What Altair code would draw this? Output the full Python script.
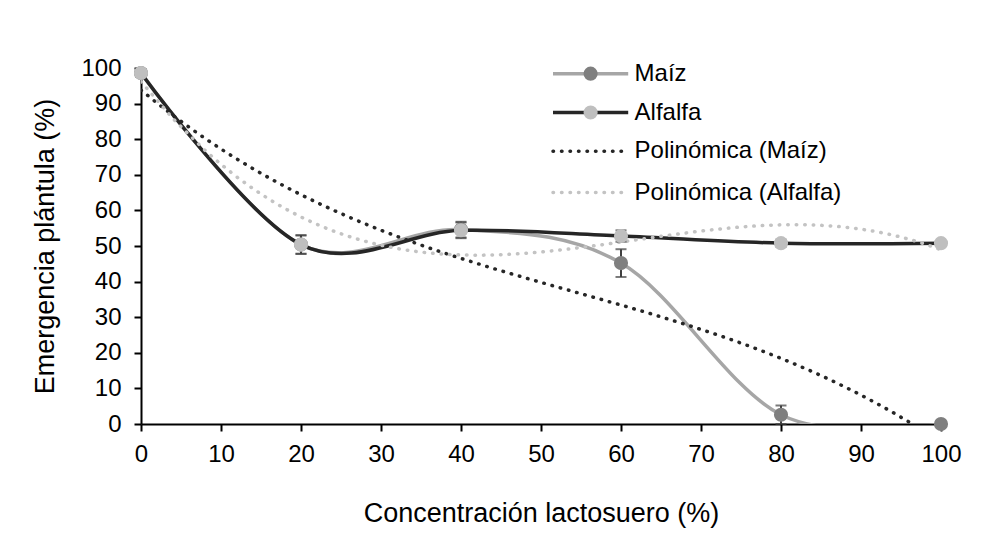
import altair as alt
import pandas as pd

# ---- data ----
x_vals = [0, 20, 40, 60, 80, 100]
maiz = [98.6, 50.4, 54.6, 45.2, 2.6, 0.0]
maiz_err = [1.0, 2.6, 2.2, 3.9, 2.6, 0.3]
alfalfa = [98.6, 50.4, 54.4, 52.8, 50.8, 50.8]
alfalfa_err = [1.0, 2.6, 2.2, 1.6, 1.0, 0.6]

legend_labels = ["Maíz", "Alfalfa", "Polinómica (Maíz)", "Polinómica (Alfalfa)"]
legend_rows_y = [98.4, 87.5, 76.6, 65.0]

x_ticks = list(range(0, 101, 10))
y_ticks = list(range(0, 101, 10))

# ---- styling ----
FONT = "Liberation Sans"
MAIZ_LINE = "#A6A6A6"
MAIZ_MARK = "#7F7F7F"
ALF_LINE = "#262626"
ALF_MARK = "#BFBFBF"
TREND_MAIZ = "#262626"
TREND_ALF = "#C3C3C3"
ERR_COLOR = "#404040"
DOT = [0.5, 8]

rows = []
for name, ys, es in [("Maíz", maiz, maiz_err), ("Alfalfa", alfalfa, alfalfa_err)]:
    for xv, yv, ev in zip(x_vals, ys, es):
        rows.append({"series": name, "x": xv, "y": yv, "lo": yv - ev, "hi": yv + ev})
df = pd.DataFrame(rows)

leg = pd.DataFrame({
    "label": legend_labels,
    "y": legend_rows_y,
    "x": [51.5] * 4,
    "x2": [60.9] * 4,
    "xm": [56.2] * 4,
    "xt": [61.7] * 4,
    "line_color": [MAIZ_LINE, ALF_LINE, TREND_MAIZ, TREND_ALF],
    "mark_color": [MAIZ_MARK, ALF_MARK, "", ""],
    "kind": ["solid", "solid", "dot", "dot"],
})

xscale = alt.Scale(domain=[0, 100], nice=False, zero=False)
yscale = alt.Scale(domain=[0, 100], nice=False, zero=False)
xaxis = alt.Axis(values=x_ticks, tickCount=11, title="Concentración lactosuero (%)")
yaxis = alt.Axis(values=y_ticks, tickCount=11, title="Emergencia plántula (%)")


def X(field):
    return alt.X(f"{field}:Q", scale=xscale, axis=xaxis)


def Y(field):
    return alt.Y(f"{field}:Q", scale=yscale, axis=yaxis)


base = alt.Chart(df)
m_df = base.transform_filter(alt.datum.series == "Maíz")
a_df = base.transform_filter(alt.datum.series == "Alfalfa")

line_m = m_df.mark_line(interpolate="cardinal", color=MAIZ_LINE, strokeWidth=3.5, clip=True).encode(x=X("x"), y=Y("y"))
line_a = a_df.mark_line(interpolate="cardinal", color=ALF_LINE, strokeWidth=3.5, clip=True).encode(x=X("x"), y=Y("y"))

trend_m = m_df.transform_regression("x", "y", method="poly", order=3, extent=[0, 100]).mark_line(
    color=TREND_MAIZ, strokeWidth=3.5, strokeDash=DOT, strokeCap="round", clip=True
).encode(x=X("x"), y=Y("y"))
trend_a = a_df.transform_regression("x", "y", method="poly", order=3, extent=[0, 100]).mark_line(
    color=TREND_ALF, strokeWidth=3.5, strokeDash=DOT, strokeCap="round", clip=True
).encode(x=X("x"), y=Y("y"))

err_v = base.mark_rule(color=ERR_COLOR, strokeWidth=2).encode(x=X("x"), y=Y("lo"), y2="hi:Q")
err_caps = base.transform_fold(["lo", "hi"], as_=["end", "yv"]).mark_tick(
    orient="horizontal", color=ERR_COLOR, thickness=2, size=11
).encode(x=X("x"), y=Y("yv"))

pts_m = m_df.mark_circle(size=200, opacity=1, color=MAIZ_MARK).encode(x=X("x"), y=Y("y"))
pts_a = a_df.mark_circle(size=200, opacity=1, color=ALF_MARK).encode(x=X("x"), y=Y("y"))

lb = alt.Chart(leg)
leg_solid = lb.transform_filter(alt.datum.kind == "solid").mark_rule(strokeWidth=3.5).encode(
    x=X("x"), x2="x2", y=Y("y"), color=alt.Color("line_color:N", scale=None))
leg_dot = lb.transform_filter(alt.datum.kind == "dot").mark_rule(
    strokeWidth=3.5, strokeDash=DOT, strokeCap="round").encode(
    x=X("x"), x2="x2", y=Y("y"), color=alt.Color("line_color:N", scale=None))
leg_mark = lb.transform_filter(alt.datum.kind == "solid").mark_circle(size=200, opacity=1).encode(
    x=X("xm"), y=Y("y"), color=alt.Color("mark_color:N", scale=None))
leg_text = lb.mark_text(align="left", baseline="middle", font=FONT, fontSize=24, color="black").encode(
    x=X("xt"), y=Y("y"), text="label:N")

chart = alt.layer(
    line_m, line_a, trend_m, trend_a, err_v, err_caps, pts_m, pts_a,
    leg_solid, leg_dot, leg_mark, leg_text
).properties(
    width=800, height=356,
    autosize=alt.AutoSizeParams(type="none"),
    padding={"left": 133, "top": 60, "right": 50, "bottom": 110},
    background="white",
).configure_view(stroke=None).configure_axis(
    grid=False,
    domainColor="black", domainWidth=2,
    tickColor="black", tickWidth=2, tickSize=7,
    labelFont=FONT, labelFontSize=24, labelColor="black",
    labelOverlap=False, labelFlush=False, labelBound=False,
    titleFont=FONT, titleFontSize=27, titleFontWeight="normal", titleColor="black",
).configure_axisX(labelPadding=11, titlePadding=34).configure_axisY(labelPadding=13, titlePadding=21)

chart.save("out.html", embed_options={"renderer": "svg", "actions": False})
